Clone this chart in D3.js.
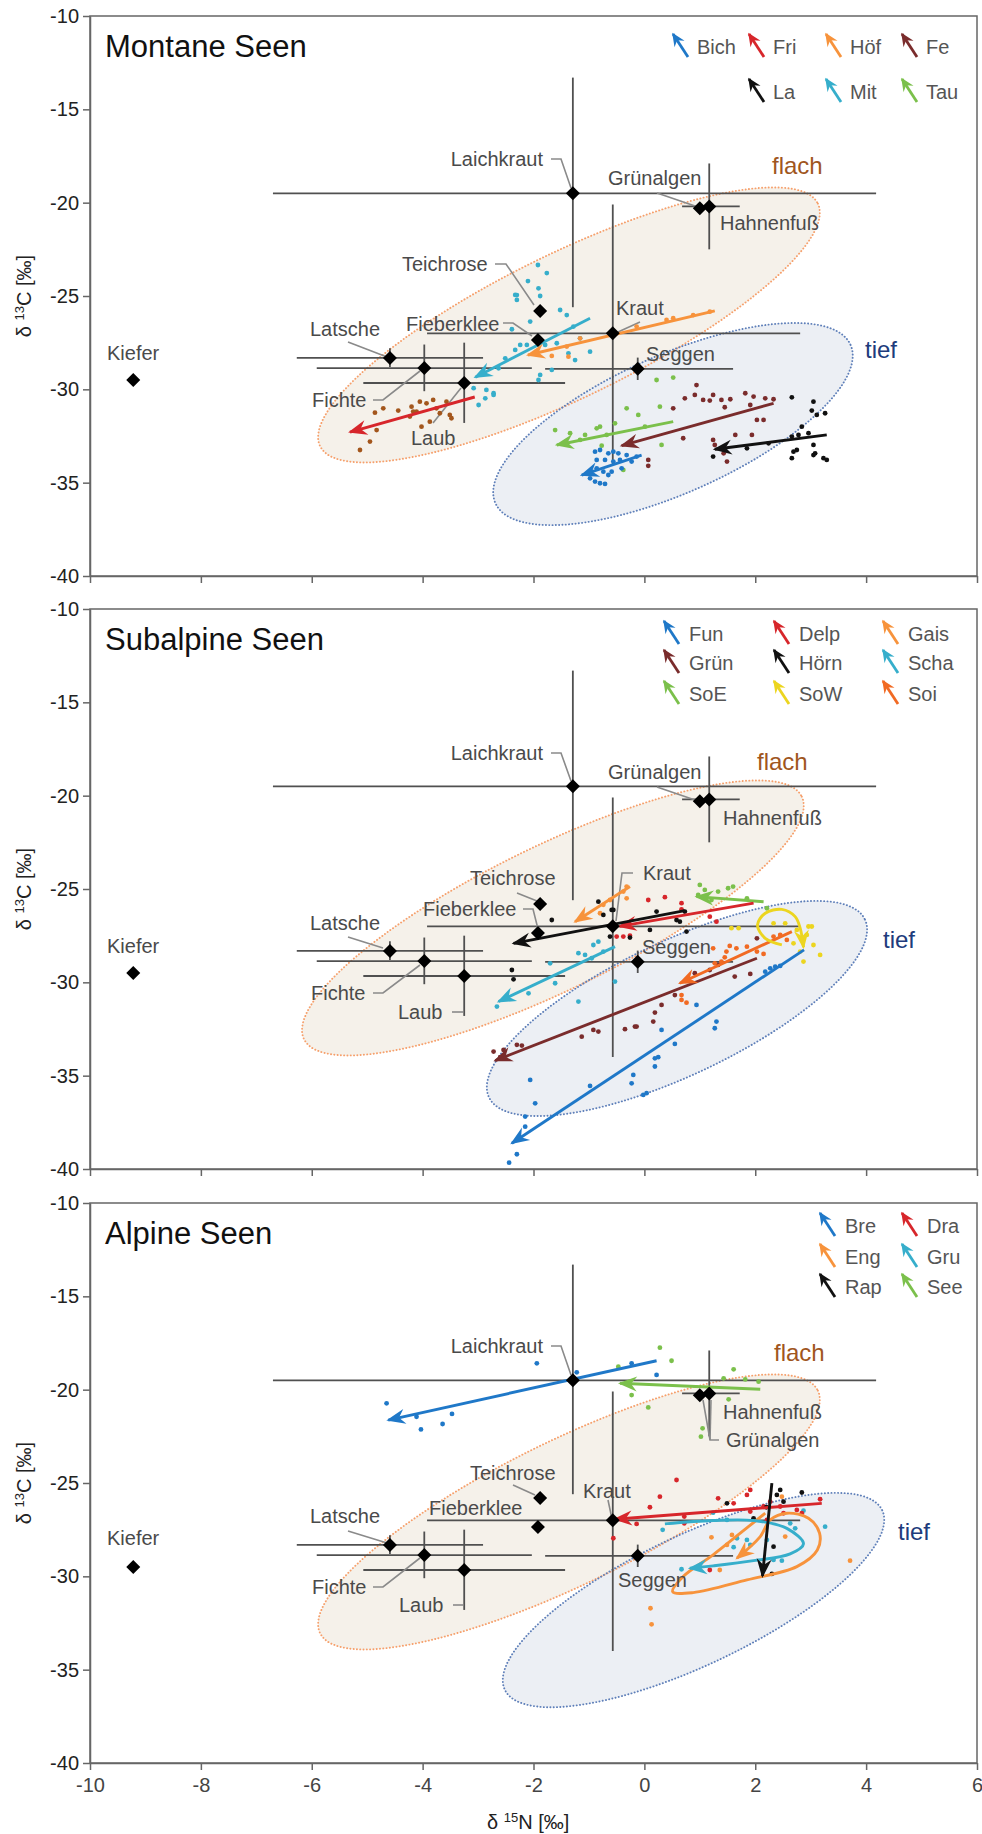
<!DOCTYPE html>
<html><head><meta charset="utf-8">
<script src="https://cdn.jsdelivr.net/npm/d3@7"></script>
<style>body{margin:0;background:#fff}svg{display:block}text{font-family:"Liberation Sans",Arial,sans-serif}</style>
</head><body><svg id="c" width="982" height="1834"></svg>
<script>
// ---------- axes ----------
const xTicks = [-10,-8,-6,-4,-2,0,2,4,6];
const yTicks = [-10,-15,-20,-25,-30,-35,-40];
const panelTitles = ["Montane Seen","Subalpine Seen","Alpine Seen"];

// ---------- reference food sources (mean, error range) ----------
const srcNames = ["Kiefer","Latsche","Fichte","Laub","Teichrose","Fieberklee","Laichkraut","Kraut","Seggen","Grünalgen","Hahnenfuß"];
const srcN   = [-9.22,-4.59,-3.97,-3.25,-1.88,-1.92,-1.29,-0.57,-0.12,1.00,1.17];
const srcC   = [-29.5,-28.32,-28.86,-29.66,-25.8,-27.36,-19.5,-27.0,-28.9,-20.3,-20.2];
const srcNlo = [null,-6.27,-5.91,-5.07,null,null,-6.70,-3.92,-1.79,null,0.68];
const srcNhi = [null,-2.91,-2.03,-1.43,null,null,4.18,2.81,1.60,null,1.72];
const srcClo = [null,-28.8,-30.1,-31.8,null,null,-25.6,-34.0,-29.5,null,-22.5];
const srcChi = [null,-27.8,-27.6,-27.5,null,null,-13.3,-20.1,-28.3,null,-17.9];

// ---------- ellipses (centre, end of major axis, end of minor axis) ----------
const flachEll = [
  {c:[-1.36,-26.55], u:[3.13,-20.05], v:[-0.79,-30.02]},
  {c:[-1.65,-26.55], u:[2.84,-20.05], v:[-1.08,-30.02]},
  {c:[-1.36,-26.55], u:[3.13,-20.05], v:[-0.79,-30.02]}];
const tiefEll = [
  {c:[0.516,-31.86], u:[3.72,-27.62], v:[1.02,-35.23]},
  {c:[0.588,-31.40], u:[3.98,-26.64], v:[1.10,-34.65]},
  {c:[0.886,-31.27], u:[4.29,-26.46], v:[1.39,-34.41]}];

// ---------- Montane lakes ----------
const bichPts = [[-0.89,-33.34],[-0.80,-33.25],[-0.65,-33.43],[-0.56,-33.34],[-0.47,-33.43],[-0.32,-33.52],[-0.23,-33.87],[-0.86,-33.78],[-0.71,-33.78],[-0.56,-33.87],[-0.44,-33.78],[-0.86,-34.23],[-0.74,-34.41],[-0.59,-34.41],[-0.98,-34.77],[-0.89,-34.94],[-0.80,-35.03],[-0.71,-35.07],[-0.41,-34.23],[-0.65,-34.59],[-0.14,-33.6]];
const bichArrow = [[-0.05,-33.52],[-1.13,-34.59]];
const friPts = [[-5.13,-33.25],[-4.95,-32.80],[-4.83,-32.18],[-4.86,-31.25],[-4.71,-31.02],[-4.44,-31.14],[-4.20,-30.93],[-4.11,-31.19],[-4.02,-32.0],[-3.93,-30.75],[-3.81,-30.57],[-3.75,-31.02],[-3.69,-31.28],[-3.57,-30.66],[-3.51,-31.37],[-3.87,-31.73],[-4.23,-31.46],[-3.48,-31.55],[-4.05,-30.66],[-4.17,-31.19]];
const friArrow = [[-3.06,-30.41],[-5.31,-32.29]];
const hofPts = [[1.18,-25.84],[0.88,-26.02],[0.52,-26.19],[0.40,-26.28],[-0.14,-26.64],[-1.16,-27.27],[-1.40,-27.71],[-1.67,-28.21],[-1.37,-28.25]];
const hofArrow = [[1.27,-25.8],[-2.1,-28.16]];
const fePts = [[0.94,-29.77],[0.73,-30.48],[0.91,-30.3],[1.06,-30.57],[1.18,-30.6],[1.24,-30.3],[1.39,-30.57],[1.55,-30.53],[1.45,-30.96],[1.82,-30.21],[1.97,-30.39],[2.18,-30.48],[1.91,-30.84],[2.33,-30.53],[2.03,-31.64],[2.15,-31.64],[0.52,-31.02],[1.64,-32.44],[1.94,-32.44],[0.70,-32.62],[1.24,-32.71],[1.27,-32.98],[1.43,-33.43],[1.49,-33.87],[0.07,-33.78],[0.07,-34.1]];
const feArrow = [[2.33,-30.75],[-0.41,-33.02]];
const laPts = [[2.66,-30.43],[3.05,-30.66],[3.02,-31.14],[3.26,-31.28],[3.11,-31.37],[2.84,-32.0],[2.66,-32.53],[2.78,-32.44],[2.96,-32.35],[3.05,-32.98],[2.75,-33.25],[2.69,-33.34],[2.66,-33.69],[3.05,-33.52],[3.08,-33.43],[3.23,-33.69],[3.29,-33.78],[2.24,-32.89],[1.85,-33.16],[1.24,-33.6]];
const laArrow = [[3.29,-32.44],[1.27,-33.21]];
const mitPts = [[-1.91,-24.59],[-1.88,-25.0],[-2.33,-24.94],[-2.30,-25.21],[-1.52,-25.75],[-1.40,-26.02],[-2.06,-26.37],[-2.39,-26.78],[-2.24,-27.62],[-2.33,-27.89],[-2.12,-27.62],[-1.79,-27.62],[-1.58,-27.53],[-1.28,-26.64],[-1.16,-27.27],[-0.98,-27.98],[-1.37,-28.07],[-1.25,-28.43],[-1.88,-29.23],[-1.91,-29.5],[-1.67,-28.96],[-2.72,-30.21],[-2.85,-30.03],[-2.87,-30.48],[-2.63,-28.87],[-2.51,-28.34],[-1.92,-23.34],[-1.76,-23.77],[-2.1,-24.2],[-2.30,-24.95],[-3.08,-29.94],[-2.99,-30.84],[-2.72,-30.3]];
const mitArrow = [[-0.98,-26.19],[-3.05,-29.35]];
const tauPts = [[0.22,-29.5],[0.52,-29.37],[-0.32,-31.02],[0.28,-30.93],[-0.11,-31.37],[-0.80,-32.0],[-0.53,-31.82],[0.01,-32.0],[-1.61,-32.18],[-0.86,-32.09],[-0.68,-32.44],[-1.34,-32.35],[-1.07,-32.44],[0.31,-32.98],[-0.77,-33.02],[-0.38,-34.32],[-1.16,-32.71]];
const tauArrow = [[0.52,-31.73],[-1.58,-32.98]];

// ---------- Subalpine lakes ----------
const funPts = [[2.18,-29.43],[2.27,-29.25],[2.36,-29.16],[2.45,-29.12],[0.94,-31.21],[1.30,-32.1],[1.27,-32.46],[0.55,-33.3],[0.25,-34.01],[0.19,-34.51],[-0.20,-34.96],[-0.23,-35.41],[-0.02,-36.03],[0.04,-35.94],[-2.06,-35.23],[-1.97,-36.48],[-0.98,-35.55],[0.19,-34.07],[0.31,-32.55],[-2.15,-37.19],[-2.15,-37.73],[-2.30,-39.21],[-2.44,-39.66]];
const funArrow = [[2.88,-28.26],[-2.39,-38.62]];
const delpPts = [[0.07,-25.59],[0.37,-25.44],[0.67,-25.76],[0.67,-26.09],[1.18,-26.48],[1.30,-26.75],[-0.50,-27.55],[-0.38,-27.55],[-0.26,-27.5]];
const delpArrow = [[1.97,-25.76],[-0.45,-27.0]];
const gaisPts = [[-0.32,-24.87],[-0.38,-25.14],[-0.62,-25.59],[-0.74,-25.85],[-0.80,-26.3],[-0.32,-25.5]];
const gaisArrow = [[-0.26,-24.87],[-1.25,-26.75]];
const grunPts = [[1.63,-29.69],[1.91,-29.55],[2.03,-27.64],[1.33,-29.07],[1.18,-29.34],[0.91,-29.51],[0.55,-30.68],[0.31,-31.21],[0.19,-31.62],[0.16,-32.1],[-0.17,-32.37],[-0.35,-32.51],[-1.13,-32.91],[-0.92,-32.55],[-0.83,-32.64],[-0.14,-32.37],[-2.72,-33.71],[-2.54,-33.62],[-2.30,-33.35],[-2.21,-33.39],[-2.60,-34.01]];
const grunArrow = [[2.03,-28.71],[-2.69,-34.19]];
const hornPts = [[-1.67,-26.66],[-0.83,-25.68],[-0.74,-26.39],[-0.59,-26.12],[-0.62,-27.55],[-2.39,-29.34],[-2.36,-29.84],[0.22,-26.21],[0.73,-26.21],[0.58,-26.66],[0.64,-26.75],[0.76,-27.28],[0.10,-27.19],[-0.26,-27.6],[-0.56,-26.12]];
const hornArrow = [[0.73,-26.16],[-2.36,-27.91]];
const schaPts = [[-1.19,-28.44],[-1.07,-28.53],[-0.92,-28.0],[-0.83,-27.82],[-0.95,-28.71],[-0.74,-28.35],[-1.70,-28.98],[-1.61,-30.05],[-2.09,-30.59],[-2.66,-31.3],[-1.19,-31.03],[-0.53,-29.96]];
const schaArrow = [[-0.53,-28.09],[-2.63,-31.03]];
const soePts = [[1.00,-24.78],[1.09,-25.05],[1.51,-24.96],[1.60,-24.87],[1.33,-25.14],[1.85,-25.5],[2.21,-26.03],[1.21,-25.59],[0.97,-25.32]];
const soeArrow = [[2.15,-25.68],[0.94,-25.41]];
const sowPts = [[2.33,-26.84],[2.54,-26.84],[2.75,-27.19],[2.96,-27.01],[3.02,-27.01],[2.93,-27.46],[3.05,-28.0],[3.17,-28.53],[2.87,-28.89],[2.81,-28.35],[1.57,-27.1],[1.70,-27.1],[2.69,-27.91]];
const sowPath = [[2.48,-27.99],[2.18,-27.64],[2.04,-26.93],[2.18,-26.30],[2.48,-26.09],[2.72,-26.48],[2.81,-27.10],[2.87,-28.12]];
const soiPts = [[1.24,-28.18],[1.54,-28.05],[1.66,-28.18],[1.85,-28.09],[1.48,-28.35],[1.45,-28.66],[1.39,-28.89],[1.27,-28.98],[2.03,-28.35],[2.15,-28.48],[2.33,-27.55],[2.45,-27.46],[2.57,-27.73],[0.67,-30.94],[0.76,-31.09],[0.67,-30.68]];
const soiArrow = [[2.66,-27.28],[0.64,-30.05]];

// ---------- Alpine lakes ----------
const brePts = [[-4.65,-20.73],[-4.11,-21.45],[-4.03,-22.13],[-3.64,-21.84],[-3.47,-21.30],[-1.94,-18.59],[-1.22,-19.07],[-0.23,-18.59],[0.22,-19.21]];
const breArrow = [[0.22,-18.45],[-4.62,-21.63]];
const draPts = [[0.58,-24.84],[0.28,-25.73],[0.10,-26.3],[0.72,-26.8],[0.72,-27.16],[1.33,-25.82],[1.85,-25.64],[1.91,-25.37],[1.61,-26.09],[1.91,-26.53],[2.15,-26.26],[2.27,-26.0],[2.21,-26.98],[2.45,-26.26],[2.51,-26.62],[2.75,-26.44],[2.84,-26.62],[3.17,-25.87],[-0.56,-27.96],[-0.14,-27.19],[1.18,-29.66]];
const draArrow = [[3.20,-26.09],[-0.53,-26.94]];
const engPts = [[1.21,-27.91],[1.49,-28.32],[1.58,-27.78],[2.54,-27.87],[2.48,-25.73],[3.71,-29.16],[0.11,-31.71],[0.13,-32.57],[1.36,-29.66]];
const engPath = [[2.18,-26.62],[1.73,-27.69],[1.24,-28.85],[0.70,-30.01],[0.51,-30.82],[0.88,-30.87],[1.85,-30.19],[2.75,-29.48],[3.12,-28.59],[3.16,-27.69],[2.96,-26.89],[2.57,-26.62],[2.27,-26.98],[2.09,-27.87],[1.67,-29.03]];
const gruPts = [[0.33,-27.51],[0.67,-29.62],[1.24,-26.59],[1.49,-26.98],[1.67,-27.96],[1.85,-28.05],[1.91,-28.32],[2.21,-28.05],[2.33,-29.12],[2.48,-29.16],[2.63,-27.16],[2.87,-26.48],[3.26,-27.34],[1.61,-28.44],[2.72,-27.43]];
const gruPath = [[0.37,-27.19],[1.24,-27.01],[1.97,-27.01],[2.57,-27.43],[2.87,-28.26],[2.63,-28.8],[1.97,-29.16],[1.24,-29.44],[0.82,-29.57]];
const rapPts = [[2.39,-25.64],[2.45,-25.37],[2.84,-25.51],[1.49,-26.09],[1.97,-26.89],[2.33,-28.41],[2.30,-29.87],[2.51,-26.0],[2.2,-26.3]];
const rapArrow = [[2.30,-25.01],[2.13,-29.98]];
const seePts = [[0.28,-17.75],[0.49,-18.45],[-0.47,-18.77],[-0.23,-20.29],[0.07,-20.95],[1.43,-19.39],[1.61,-18.91],[1.82,-19.45],[2.06,-19.57],[1.52,-20.52],[1.05,-22.07],[1.02,-22.52]];
const seeArrow = [[2.09,-19.98],[-0.44,-19.66]];

// ---------- styles ----------
const C = {blue:"#1f78c8", red:"#d7262b", orange:"#f7933c", brown:"#7a2c2c", black:"#111111",
           cyan:"#36aecb", green:"#7bc04b", yellow:"#ecd51f", dorange:"#f16a23", friPt:"#a3561c"};

const panels = [
  {lakes:[
    {n:"Bich",c:C.blue,pts:bichPts,path:bichArrow},
    {n:"Fri",c:C.red,pc:C.friPt,pts:friPts,path:friArrow},
    {n:"Höf",c:C.orange,pts:hofPts,path:hofArrow},
    {n:"Fe",c:C.brown,pts:fePts,path:feArrow},
    {n:"La",c:C.black,pts:laPts,path:laArrow},
    {n:"Mit",c:C.cyan,pts:mitPts,path:mitArrow},
    {n:"Tau",c:C.green,pts:tauPts,path:tauArrow}],
   legend:{cols:[672,748,825,901], rows:[31,76], pos:[[0,0],[1,0],[2,0],[3,0],[1,1],[2,1],[3,1]], tx:25},
   drawOrder:["Mit","Höf","Tau","Fe","La","Bich","Fri"],
   labels:[
    {t:"Kiefer",x:107,y:337},
    {t:"Latsche",x:310,y:313,l:[[[348,326],[387,341]]]},
    {t:"Fichte",x:312,y:384,l:[[[373,384],[383,384],[420,355]]]},
    {t:"Laub",x:411,y:422,l:[[[433,407],[461,372]]]},
    {t:"Teichrose",x:402,y:248,l:[[[495,248],[506,248],[534,289]]]},
    {t:"Fieberklee",x:406,y:308,l:[[[503,307],[513,307],[532,320]]]},
    {t:"Laichkraut",x:543,y:143,a:"end",l:[[[551,143],[561,143],[571,172]]]},
    {t:"Grünalgen",x:608,y:162,l:[[[657,177],[695,190]]]},
    {t:"Hahnenfuß",x:720,y:207},
    {t:"Kraut",x:616,y:292,l:[[[640,306],[618,316]]]},
    {t:"Seggen",x:646,y:338}],
   flach:[772,150], tief:[865,334]},
  {lakes:[
    {n:"Fun",c:C.blue,pts:funPts,path:funArrow},
    {n:"Delp",c:C.red,pts:delpPts,path:delpArrow},
    {n:"Gais",c:C.orange,pts:gaisPts,path:gaisArrow},
    {n:"Grün",c:C.brown,pts:grunPts,path:grunArrow},
    {n:"Hörn",c:C.black,pts:hornPts,path:hornArrow},
    {n:"Scha",c:C.cyan,pts:schaPts,path:schaArrow},
    {n:"SoE",c:C.green,pts:soePts,path:soeArrow},
    {n:"SoW",c:C.yellow,pts:sowPts,path:sowPath,curve:true},
    {n:"Soi",c:C.dorange,pts:soiPts,path:soiArrow}],
   legend:{cols:[663,773,882], rows:[25,54,85], pos:[[0,0],[1,0],[2,0],[0,1],[1,1],[2,1],[0,2],[1,2],[2,2]], tx:26},
   drawOrder:["Fun","Grün","Scha","Gais","SoE","Delp","Hörn","Soi","SoW"],
   labels:[
    {t:"Kiefer",x:107,y:337},
    {t:"Latsche",x:310,y:314,l:[[[348,328],[383,339]]]},
    {t:"Fichte",x:311,y:384,l:[[[373,384],[383,384],[420,356]]]},
    {t:"Laub",x:398,y:403,l:[[[452,403],[463,403]]]},
    {t:"Teichrose",x:470,y:269,l:[[[517,284],[537,292]]]},
    {t:"Fieberklee",x:423,y:300,l:[[[523,300],[533,300],[538,320]]]},
    {t:"Laichkraut",x:543,y:144,a:"end",l:[[[551,144],[561,144],[571,172]]]},
    {t:"Grünalgen",x:608,y:163,l:[[[657,178],[695,191]]]},
    {t:"Hahnenfuß",x:723,y:209},
    {t:"Kraut",x:643,y:264,l:[[[633,264],[622,264],[616,312]]]},
    {t:"Seggen",x:642,y:338}],
   flach:[757,153], tief:[883,331]},
  {lakes:[
    {n:"Bre",c:C.blue,pts:brePts,path:breArrow},
    {n:"Dra",c:C.red,pts:draPts,path:draArrow},
    {n:"Eng",c:C.orange,pts:engPts,path:engPath,curve:true},
    {n:"Gru",c:C.cyan,pts:gruPts,path:gruPath,curve:true},
    {n:"Rap",c:C.black,pts:rapPts,path:rapArrow},
    {n:"See",c:C.green,pts:seePts,path:seeArrow}],
   legend:{cols:[819,901], rows:[23,54,84], pos:[[0,0],[1,0],[0,1],[1,1],[0,2],[1,2]], tx:26},
   drawOrder:["Eng","Gru","Dra","Rap","See","Bre"],
   labels:[
    {t:"Kiefer",x:107,y:335},
    {t:"Latsche",x:310,y:313,l:[[[348,328],[387,340]]]},
    {t:"Fichte",x:312,y:384,l:[[[373,384],[383,384],[420,355]]]},
    {t:"Laub",x:399,y:402,l:[[[453,402],[463,402]]]},
    {t:"Teichrose",x:470,y:270,l:[[[513,282],[535,292]]]},
    {t:"Fieberklee",x:429,y:305},
    {t:"Laichkraut",x:543,y:143,a:"end",l:[[[551,143],[561,143],[571,172]]]},
    {t:"Hahnenfuß",x:723,y:209},
    {t:"Grünalgen",x:726,y:237,l:[[[719,237],[710,237],[703,197]],[[710,237],[711,197]]]},
    {t:"Kraut",x:583,y:288,l:[[[608,297],[612,316]]]},
    {t:"Seggen",x:618,y:377}],
   flach:[774,150], tief:[898,329]}
];

// ---------- layout ----------
const panelTops = [16,609,1203], PH = 560, X0 = 90, X1 = 977;
const svg = d3.select("#c");
const x = d3.scaleLinear().domain([-10,6]).range([X0,X1]);

// markers
const defs = svg.append("defs");
const markerColors = Object.entries(C);
markerColors.forEach(([k,col])=>{
  defs.append("marker").attr("id","m-"+k).attr("markerUnits","userSpaceOnUse")
    .attr("viewBox","-19 -9 22 18").attr("refX",0).attr("refY",0)
    .attr("markerWidth",22).attr("markerHeight",18).attr("orient","auto")
    .append("path").attr("d","M2,0L-17,-7.5L-11,0L-17,7.5Z").attr("fill",col);
  defs.append("marker").attr("id","s-"+k).attr("markerUnits","userSpaceOnUse")
    .attr("viewBox","-13 -7 15 14").attr("refX",0).attr("refY",0)
    .attr("markerWidth",15).attr("markerHeight",14).attr("orient","auto")
    .append("path").attr("d","M1.5,0L-12,-6L-7.5,0L-12,6Z").attr("fill",col);
});
const keyOf = col => markerColors.find(([k,v])=>v===col)[0];

function ellipsePts(e){
  const pts=[];
  for(let i=0;i<=120;i++){
    const t=i/120*2*Math.PI, ct=Math.cos(t), st=Math.sin(t);
    pts.push([e.c[0]+(e.u[0]-e.c[0])*ct+(e.v[0]-e.c[0])*st, e.c[1]+(e.u[1]-e.c[1])*ct+(e.v[1]-e.c[1])*st]);
  }
  return pts;
}

panels.forEach((P,pi)=>{
  const top = panelTops[pi];
  const y = d3.scaleLinear().domain([-10,-40]).range([top, top+PH]);
  const g = svg.append("g");
  const line = d3.line().x(d=>x(d[0])).y(d=>y(d[1]));

  // ellipses
  const fE = ellipsePts(flachEll[pi]), tE = ellipsePts(tiefEll[pi]);
  g.append("path").attr("d",line(fE)+"Z").attr("fill","#f5f1ea");
  g.append("path").attr("d",line(tE)+"Z").attr("fill","#eceff4");
  g.append("path").attr("d",line(fE)+"Z").attr("fill","none").attr("stroke","#f6a06c")
    .attr("stroke-width",1.9).attr("stroke-dasharray","0.1,3.2").attr("stroke-linecap","round");
  g.append("path").attr("d",line(tE)+"Z").attr("fill","none").attr("stroke","#5e7fb9")
    .attr("stroke-width",1.9).attr("stroke-dasharray","0.1,3.2").attr("stroke-linecap","round");

  // frame
  g.append("rect").attr("x",X0).attr("y",top).attr("width",X1-X0).attr("height",PH)
    .attr("fill","none").attr("stroke","#666").attr("stroke-width",1.5);

  // axes
  const ya = g.append("g").attr("transform",`translate(${X0},0)`)
    .call(d3.axisLeft(y).tickValues(yTicks).tickSize(7).tickSizeOuter(0).tickPadding(4).tickFormat(d=>String(d)));
  ya.selectAll("path,line").attr("stroke","#666").attr("stroke-width",1.5);
  ya.selectAll("text").attr("font-size",20).attr("fill","#222");
  const xa = g.append("g").attr("transform",`translate(0,${top+PH})`)
    .call(d3.axisBottom(x).tickValues(xTicks).tickSize(7).tickSizeOuter(0).tickPadding(8)
      .tickFormat(d=> pi===2 ? String(d) : ""));
  xa.selectAll("path,line").attr("stroke","#666").attr("stroke-width",1.5);
  xa.selectAll("text").attr("font-size",20).attr("fill","#444");

  // y title
  const yt = g.append("text").attr("transform",`translate(31,${top+PH/2}) rotate(-90)`)
    .attr("text-anchor","middle").attr("font-size",20).attr("fill","#222");
  yt.append("tspan").text("δ ");
  yt.append("tspan").attr("font-size",13).attr("dy",-7).text("13");
  yt.append("tspan").attr("dy",7).text("C [‰]");

  // panel title
  g.append("text").attr("x",105).attr("y",top+41).attr("font-size",31).attr("fill","#111").text(panelTitles[pi]);

  // error bars
  const eb = g.append("g").attr("stroke","#505050").attr("stroke-width",1.8);
  srcNames.forEach((s,i)=>{
    if(srcNlo[i]!==null) eb.append("line").attr("x1",x(srcNlo[i])).attr("x2",x(srcNhi[i])).attr("y1",y(srcC[i])).attr("y2",y(srcC[i]));
    if(srcClo[i]!==null) eb.append("line").attr("x1",x(srcN[i])).attr("x2",x(srcN[i])).attr("y1",y(srcClo[i])).attr("y2",y(srcChi[i]));
  });

  // leader lines
  const ll = d3.line();
  P.labels.forEach(L=>{
    (L.l||[]).forEach(seg=>{
      g.append("path").attr("d",ll(seg.map(p=>[p[0],p[1]+top]))).attr("fill","none")
        .attr("stroke","#8a8a8a").attr("stroke-width",1.6);
    });
  });

  // lake points & arrows
  const byName = Object.fromEntries(P.lakes.map(l=>[l.n,l]));
  P.drawOrder.forEach(n=>{
    const L = byName[n];
    g.append("g").selectAll("circle").data(L.pts).join("circle")
      .attr("cx",d=>x(d[0])).attr("cy",d=>y(d[1])).attr("r",2.4).attr("fill",L.pc||L.c);
  });
  P.drawOrder.forEach(n=>{
    const L = byName[n];
    const lg = d3.line().x(d=>x(d[0])).y(d=>y(d[1])).curve(L.curve? d3.curveCatmullRom.alpha(0.5): d3.curveLinear);
    g.append("path").attr("d",lg(L.path)).attr("fill","none").attr("stroke",L.c)
      .attr("stroke-width",2.9).attr("stroke-linecap","butt").attr("marker-end",`url(#m-${keyOf(L.c)})`);
  });

  // source diamonds
  g.append("g").selectAll("path").data(srcNames).join("path")
    .attr("d","M0,-7L7,0L0,7L-7,0Z")
    .attr("transform",(d,i)=>`translate(${x(srcN[i])},${y(srcC[i])})`)
    .attr("fill","#000");

  // labels
  P.labels.forEach(L=>{
    g.append("text").attr("x",L.x).attr("y",top+L.y+7).attr("text-anchor",L.a||"start")
      .attr("font-size",20).attr("fill","#4a4a4a").text(L.t);
  });
  g.append("text").attr("x",P.flach[0]).attr("y",top+P.flach[1]+8).attr("font-size",24).attr("fill","#a0561e").text("flach");
  g.append("text").attr("x",P.tief[0]).attr("y",top+P.tief[1]+8).attr("font-size",24).attr("fill","#203b7c").text("tief");

  // legend
  const lgd = P.legend;
  P.lakes.forEach((L,i)=>{
    const [ci,ri] = lgd.pos[i];
    const ax = lgd.cols[ci], ay = top + lgd.rows[ri];
    g.append("line").attr("x1",ax+16).attr("y1",ay+10).attr("x2",ax+1).attr("y2",ay-13)
      .attr("stroke",L.c).attr("stroke-width",2.8).attr("marker-end",`url(#s-${keyOf(L.c)})`);
    g.append("text").attr("x",ax+lgd.tx).attr("y",ay+7).attr("font-size",20).attr("fill","#555").text(L.n);
  });
});

// x title
const xt = svg.append("text").attr("x",487).attr("y",1829).attr("font-size",20).attr("fill","#222");
xt.append("tspan").text("δ ");
xt.append("tspan").attr("font-size",13).attr("dy",-7).text("15");
xt.append("tspan").attr("dy",7).text("N [‰]");
</script></body></html>
